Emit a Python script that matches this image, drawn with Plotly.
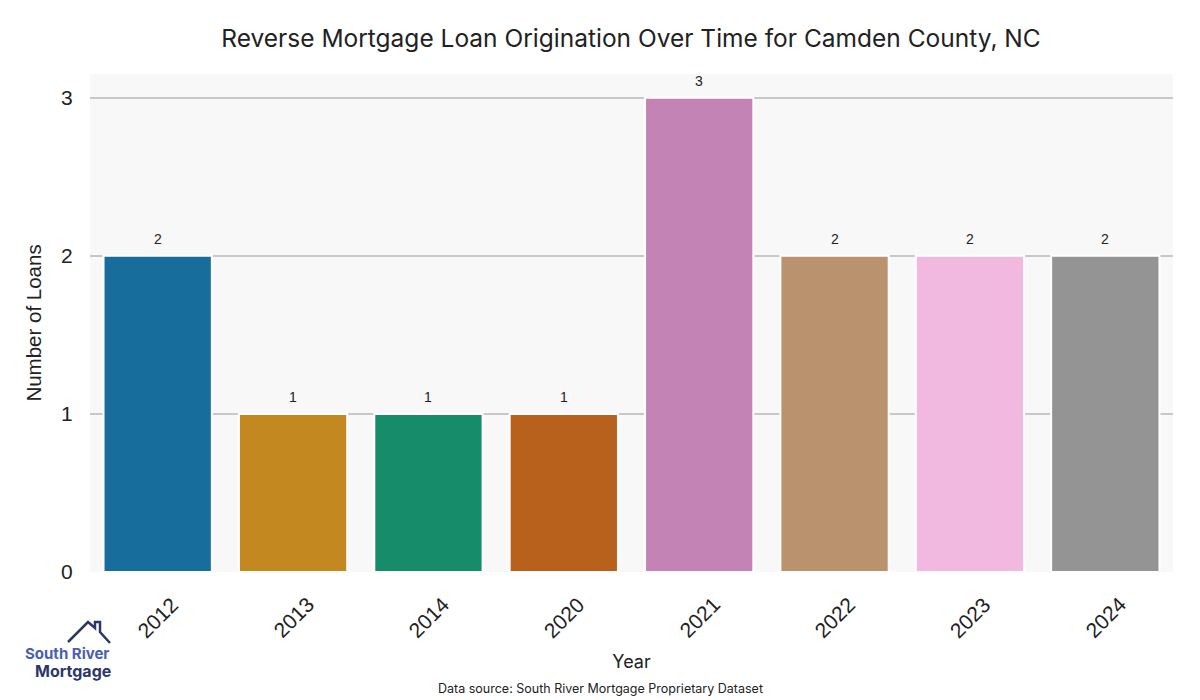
import plotly.graph_objects as go

years = ["2012", "2013", "2014", "2020", "2021", "2022", "2023", "2024"]
loans = [2, 1, 1, 1, 3, 2, 2, 2]
colors = ["#176d9c", "#c38820", "#168c6a", "#b8611d", "#c383b5", "#bb926e", "#f1b8e0", "#949494"]

W, H = 1200, 700
ML, MR, MT, MB = 90, 27, 74, 128
PW, PH = W - ML - MR, H - MT - MB

def px(x):
    return (x - ML) / PW

def py(y):
    return (H - MB - y) / PH

fig = go.Figure()
fig.add_trace(go.Bar(
    x=years, y=loans,
    marker=dict(color=colors, line=dict(color="white", width=2)),
    showlegend=False,
))

# value labels and rotated year labels: x given as the category's serial number on the category axis
for i, (yr, v) in enumerate(zip(years, loans)):
    fig.add_annotation(x=i, y=v, xref="x", yref="y", text=str(v), showarrow=False, yshift=17,
                       font=dict(family="Liberation Sans, Arial", size=14, color="#222222"))
    fig.add_annotation(x=i, y=0, xref="x", yref="y", text=yr, showarrow=False, yshift=-45,
                       textangle=-45, xanchor="center", yanchor="middle",
                       font=dict(family="Liberation Sans, Arial", size=21, color="#222222"))

fig.update_layout(
    width=W, height=H,
    margin=dict(l=ML, r=MR, t=MT, b=MB, autoexpand=False),
    paper_bgcolor="white", plot_bgcolor="#f8f8f8",
    bargap=0.2,
    title=dict(text="Reverse Mortgage Loan Origination Over Time for Camden County, NC",
               xref="container", x=631 / W, xanchor="center", y=1 - 38 / H, yanchor="middle",
               font=dict(family="Inter, Roboto, sans-serif", size=24.5, color="#222222")),
    font=dict(family="Inter, sans-serif", color="#222222"),
)
fig.update_xaxes(
    type="category", categoryorder="array", categoryarray=years, automargin=False,
    showticklabels=False, showgrid=False, zeroline=False, showline=False,
    title=dict(text="Year", font=dict(family="Inter, sans-serif", size=18, color="#222222"), standoff=83),
)
fig.update_yaxes(
    automargin=False,
    range=[0, 3.15], tickvals=[0, 1, 2, 3], showgrid=True, gridcolor="#c8c8c8", gridwidth=2,
    zeroline=False, showline=False,
    ticks="outside", ticklen=12, tickcolor="rgba(0,0,0,0)",
    tickfont=dict(family="Liberation Sans, Arial", size=21, color="#222222"),
    title=dict(text="Number of Loans", font=dict(family="Liberation Sans, Arial", size=20.5, color="#222222"), standoff=13),
)

fig.add_annotation(text="Data source: South River Mortgage Proprietary Dataset", xref="paper", yref="paper",
                   x=px(600), y=py(688), xanchor="center", yanchor="middle", showarrow=False,
                   font=dict(family="Inter, sans-serif", size=12.5, color="#222222"))

# Logo
pts = [(68, 642), (88, 622), (95, 628), (95, 622), (100, 622), (100, 632), (110, 643)]
path = "M " + " L ".join(f"{px(a):.5f},{py(b):.5f}" for a, b in pts)
fig.add_shape(type="path", path=path, xref="paper", yref="paper",
              line=dict(color="#2b3768", width=2.5))
fig.add_annotation(text="<b>South River</b>", xref="paper", yref="paper", x=px(67), y=py(653),
                   xanchor="center", yanchor="middle", showarrow=False,
                   font=dict(family="Inter, sans-serif", size=15, color="#4a5fae"))
fig.add_annotation(text="<b>Mortgage</b>", xref="paper", yref="paper", x=px(73), y=py(671),
                   xanchor="center", yanchor="middle", showarrow=False,
                   font=dict(family="Inter, sans-serif", size=16, color="#2b3768"))

fig.write_html("out.html", config={"displayModeBar": False},
               post_script="document.body.style.margin='0';")
